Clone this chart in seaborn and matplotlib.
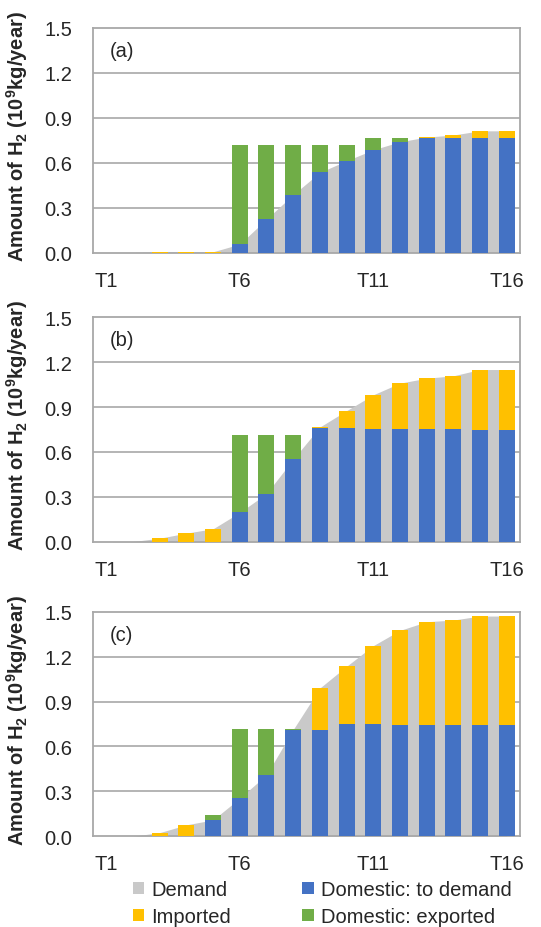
import matplotlib
matplotlib.use("Agg")
import matplotlib.pyplot as plt
from matplotlib.patches import Patch
import seaborn as sns
import numpy as np
import pandas as pd

# ---------------- data ----------------
periods = [f"T{i}" for i in range(1, 17)]
tick_labels = ["T1", "T6", "T11", "T16"]
panel_labels = ["(a)", "(b)", "(c)"]

# panel (a)
a_domestic = [0, 0, 0, 0, 0, 0.056, 0.223, 0.386, 0.535, 0.613, 0.686, 0.740, 0.762, 0.762, 0.762, 0.762]
a_imported = [0, 0, 0.005, 0.005, 0.005, 0, 0, 0, 0, 0, 0, 0, 0.009, 0.023, 0.051, 0.051]
a_exported = [0, 0, 0, 0, 0, 0.664, 0.497, 0.334, 0.185, 0.107, 0.078, 0.024, 0, 0, 0, 0]
a_demand = [0, 0, 0.005, 0.005, 0.005, 0.056, 0.223, 0.386, 0.535, 0.613, 0.686, 0.740, 0.771, 0.785, 0.813, 0.813]

# panel (b)
b_domestic = [0, 0, 0, 0, 0, 0.196, 0.322, 0.551, 0.762, 0.760, 0.753, 0.753, 0.753, 0.753, 0.749, 0.749]
b_imported = [0, 0.002, 0.024, 0.058, 0.087, 0, 0, 0, 0.005, 0.116, 0.229, 0.307, 0.340, 0.356, 0.402, 0.402]
b_exported = [0, 0, 0, 0, 0, 0.520, 0.394, 0.165, 0, 0, 0, 0, 0, 0, 0, 0]
b_demand = [0, 0.002, 0.024, 0.058, 0.087, 0.196, 0.322, 0.551, 0.767, 0.876, 0.982, 1.060, 1.093, 1.109, 1.151, 1.151]

# panel (c)
c_domestic = [0, 0, 0, 0, 0.109, 0.254, 0.410, 0.712, 0.710, 0.750, 0.748, 0.743, 0.743, 0.743, 0.743, 0.743]
c_imported = [0, 0, 0.024, 0.076, 0, 0, 0, 0, 0.280, 0.385, 0.525, 0.632, 0.690, 0.701, 0.728, 0.728]
c_exported = [0, 0, 0, 0, 0.033, 0.463, 0.307, 0.005, 0, 0, 0, 0, 0, 0, 0, 0]
c_demand = [0, 0, 0.024, 0.076, 0.109, 0.254, 0.410, 0.712, 0.990, 1.135, 1.273, 1.375, 1.433, 1.444, 1.471, 1.471]

panels = [
    (a_domestic, a_imported, a_exported, a_demand),
    (b_domestic, b_imported, b_exported, b_demand),
    (c_domestic, c_imported, c_exported, c_demand),
]

series_names = ["Demand", "Imported", "Domestic: to demand", "Domestic: exported"]
yticks = [0.0, 0.3, 0.6, 0.9, 1.2, 1.5]

# ---------------- style ----------------
C_DEMAND = "#C9C9C9"
C_IMPORT = "#FFC000"
C_DOM = "#4472C4"
C_EXP = "#70AD47"
GRID = "#A8A8A8"
TXT = "#262626"

sns.set_theme(style="white")
plt.rcParams["font.family"] = ["Liberation Sans", "DejaVu Sans"]
plt.rcParams["mathtext.fontset"] = "custom"
plt.rcParams["mathtext.rm"] = "Liberation Sans:bold"
plt.rcParams["mathtext.it"] = "Liberation Sans:bold"
plt.rcParams["mathtext.bf"] = "Liberation Sans:bold"

W, H = 541, 928
fig = plt.figure(figsize=(W / 100, H / 100), dpi=100)

left = 93 / W
width = 427 / W
tops = [29, 318.3, 612.7]
ph = 224.5

for idx, (dom, imp, exp_, dem) in enumerate(panels):
    top = tops[idx]
    ax = fig.add_axes([left, 1 - (top + ph) / H, width, ph / H])
    dom = np.array(dom); imp = np.array(imp); exp_ = np.array(exp_)
    df = pd.DataFrame({
        "period": periods,
        "l1": dom,
        "l2": dom + imp,
        "l3": dom + imp + exp_,
    })
    # gridlines
    for yv in yticks[1:-1]:
        ax.axhline(yv, color=GRID, lw=1.2, zorder=0)
    # demand area
    ax.fill_between(np.arange(len(periods)), dem, color=C_DEMAND, lw=0, zorder=1)
    # stacked bars
    sns.barplot(data=df, x="period", y="l3", color=C_EXP, width=0.6,
                saturation=1, linewidth=0, ax=ax, zorder=2)
    sns.barplot(data=df, x="period", y="l2", color=C_IMPORT, width=0.6,
                saturation=1, linewidth=0, ax=ax, zorder=3)
    sns.barplot(data=df, x="period", y="l1", color=C_DOM, width=0.6,
                saturation=1, linewidth=0, ax=ax, zorder=4)

    ax.set_xlim(-0.5, len(periods) - 0.5)
    ax.set_ylim(0, 1.5)
    ax.set_yticks(yticks)
    ax.set_yticklabels([f"{v:.1f}" for v in yticks])
    ax.set_xticks([periods.index(t) for t in tick_labels])
    ax.set_xticklabels(tick_labels)
    ax.tick_params(axis="both", length=0, labelsize=14.5, colors=TXT)
    ax.tick_params(axis="y", pad=15)
    ax.tick_params(axis="x", pad=13)
    ax.set_xlabel("")
    ax.set_ylabel(r"Amount of H$_2$ (10$^9$kg/year)", fontsize=14.5,
                  fontweight="bold", color=TXT)
    ax.yaxis.set_label_coords(-0.148, 0.52)
    for s in ax.spines.values():
        s.set_color(GRID)
        s.set_linewidth(1.3)
        s.set_visible(True)
    ax.text(0.04, 0.90, panel_labels[idx], transform=ax.transAxes,
            fontsize=14.5, color=TXT, ha="left", va="center")

handles = [
    Patch(facecolor=C_DEMAND, edgecolor="none"),
    Patch(facecolor=C_IMPORT, edgecolor="none"),
    Patch(facecolor=C_DOM, edgecolor="none"),
    Patch(facecolor=C_EXP, edgecolor="none"),
]
fig.legend(handles, series_names, ncol=2, loc="upper left",
           bbox_to_anchor=(119 / W, 1 - 867 / H), frameon=False,
           fontsize=14.5, handlelength=0.55, handleheight=0.55,
           handletextpad=0.35, columnspacing=3.55, labelspacing=0.4,
           borderpad=0.2, labelcolor=TXT)

fig.savefig("out.png", dpi=100)
